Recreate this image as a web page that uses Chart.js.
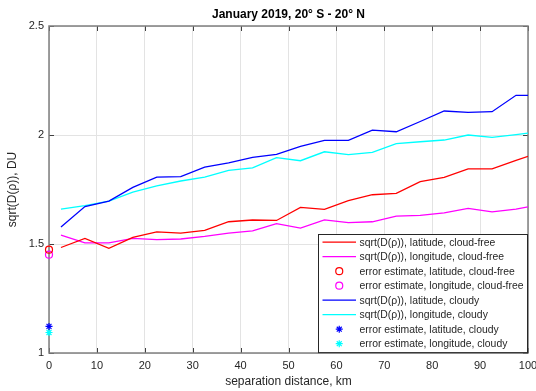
<!DOCTYPE html>
<html>
<head>
<meta charset="utf-8">
<script src="https://cdn.jsdelivr.net/npm/chart.js@4/dist/chart.umd.min.js"></script>
<style>
  html, body { margin: 0; padding: 0; background: #ffffff; }
  #wrap { width: 536px; height: 391px; }
</style>
</head>
<body>
<div id="wrap"><canvas id="c" width="536" height="391"></canvas></div>
<script>
// Separation distance bins (km)
const distanceKm = [2.5, 7.5, 12.5, 17.5, 22.5, 27.5, 32.5, 37.5, 42.5, 47.5, 52.5,
                    57.5, 62.5, 67.5, 72.5, 77.5, 82.5, 87.5, 92.5, 97.5, 100];

// sqrt(D(rho)) in DU
const latClear  = [1.484, 1.526, 1.480, 1.530, 1.556, 1.550, 1.562, 1.602, 1.610, 1.608, 1.668,
                   1.659, 1.699, 1.726, 1.732, 1.786, 1.806, 1.845, 1.845, 1.884, 1.902];
const lonClear  = [1.541, 1.505, 1.505, 1.526, 1.520, 1.523, 1.535, 1.550, 1.560, 1.593, 1.573,
                   1.611, 1.598, 1.602, 1.628, 1.631, 1.643, 1.663, 1.647, 1.660, 1.670];
const latCloudy = [1.578, 1.672, 1.697, 1.760, 1.807, 1.809, 1.853, 1.872, 1.897, 1.911, 1.948,
                   1.975, 1.975, 2.022, 2.015, 2.062, 2.110, 2.104, 2.107, 2.182, 2.182];
const lonCloudy = [1.660, 1.676, 1.697, 1.738, 1.767, 1.789, 1.807, 1.838, 1.849, 1.896, 1.882,
                   1.923, 1.910, 1.920, 1.960, 1.969, 1.977, 2.000, 1.989, 2.002, 2.009];

// Error estimates, plotted at zero separation
const errLatClear  = 1.474;
const errLonClear  = 1.451;
const errLatCloudy = 1.122;
const errLonCloudy = 1.094;

// Axis ticks
const xTicks = [0, 10, 20, 30, 40, 50, 60, 70, 80, 90, 100];
const yTicks = [1, 1.5, 2, 2.5];

const legendLabels = [
  'sqrt(D(\u03C1)), latitude, cloud-free',
  'sqrt(D(\u03C1)), longitude, cloud-free',
  'error estimate, latitude, cloud-free',
  'error estimate, longitude, cloud-free',
  'sqrt(D(\u03C1)), latitude, cloudy',
  'sqrt(D(\u03C1)), longitude, cloudy',
  'error estimate, latitude, cloudy',
  'error estimate, longitude, cloudy'
];

const FONT = '"Liberation Sans", Arial, Helvetica, sans-serif';
const TEXT = '#262626';
const AXIS = '#7f7f7f';

const pts = ys => distanceKm.map((x, i) => ({ x: x, y: ys[i] }));

function lineSet(label, ys, color) {
  return { type: 'line', label: label, data: pts(ys), borderColor: color,
           backgroundColor: color, borderWidth: 1.3, pointRadius: 0, fill: false,
           tension: 0, kind: 'line' };
}
function markerSet(label, y, color, style) {
  return { type: 'scatter', label: label, data: [{ x: 0, y: y }], borderColor: color,
           backgroundColor: style === 'circle' ? 'rgba(0,0,0,0)' : color,
           pointStyle: style, pointRadius: 3.5, pointBorderWidth: 1.2,
           clip: false, showLine: false, kind: 'marker' };
}

const datasets = [
  lineSet(legendLabels[0], latClear, '#ff0000'),
  lineSet(legendLabels[1], lonClear, '#ff00ff'),
  markerSet(legendLabels[2], errLatClear, '#ff0000', 'circle'),
  markerSet(legendLabels[3], errLonClear, '#ff00ff', 'circle'),
  lineSet(legendLabels[4], latCloudy, '#0000ff'),
  lineSet(legendLabels[5], lonCloudy, '#00ffff'),
  markerSet(legendLabels[6], errLatCloudy, '#0000ff', 'star'),
  markerSet(legendLabels[7], errLonCloudy, '#00ffff', 'star')
];

// Axes box with inward tick marks on all four sides, plus the legend
const boxPlugin = {
  id: 'axesBox',
  beforeDatasetsDraw(chart) {
    const { ctx, chartArea: a, scales: { x, y } } = chart;
    ctx.save();
    ctx.strokeStyle = '#404040';
    ctx.lineWidth = 1;
    const tl = 5;
    ctx.beginPath();
    xTicks.forEach(v => {
      const px = Math.round(x.getPixelForValue(v)) + 0.5;
      ctx.moveTo(px, a.bottom); ctx.lineTo(px, a.bottom - tl);
      ctx.moveTo(px, a.top); ctx.lineTo(px, a.top + tl);
    });
    yTicks.forEach(v => {
      const py = Math.round(y.getPixelForValue(v)) + 0.5;
      ctx.moveTo(a.left, py); ctx.lineTo(a.left + tl, py);
      ctx.moveTo(a.right, py); ctx.lineTo(a.right - tl, py);
    });
    ctx.stroke();
    ctx.strokeStyle = AXIS;
    ctx.lineWidth = 1.5;
    ctx.strokeRect(a.left, a.top, a.right - a.left, a.bottom - a.top);
    ctx.restore();
  },
  afterDraw(chart) {
    const { ctx, chartArea: a } = chart;
    const w = 210, rowH = 14.5, padTop = 8.3;
    const h = padTop * 2 + rowH * (chart.data.datasets.length - 1) + 1;
    const left = a.right - w, top = a.bottom - h;
    ctx.save();
    ctx.fillStyle = '#ffffff';
    ctx.fillRect(left, top, w, h);
    ctx.strokeStyle = '#262626';
    ctx.lineWidth = 1;
    ctx.strokeRect(Math.round(left) + 0.5, Math.round(top) + 0.5, w - 1, h - 1);
    ctx.font = '10.4px ' + FONT;
    ctx.textBaseline = 'middle';
    ctx.textAlign = 'left';
    chart.data.datasets.forEach((ds, i) => {
      const cy = top + padTop + rowH * i;
      const x0 = left + 4.5, x1 = left + 38;
      const cx = (x0 + x1) / 2;
      ctx.strokeStyle = ds.borderColor;
      if (ds.kind === 'line') {
        ctx.lineWidth = 1.3;
        ctx.beginPath(); ctx.moveTo(x0, cy); ctx.lineTo(x1, cy); ctx.stroke();
      } else if (ds.pointStyle === 'circle') {
        ctx.lineWidth = 1.2;
        ctx.beginPath(); ctx.arc(cx, cy, 3.5, 0, Math.PI * 2); ctx.stroke();
      } else {
        const r = 3.5;
        ctx.lineWidth = 1.2;
        ctx.beginPath();
        for (let k = 0; k < 4; k++) {
          const t = k * Math.PI / 4;
          ctx.moveTo(cx - r * Math.cos(t), cy - r * Math.sin(t));
          ctx.lineTo(cx + r * Math.cos(t), cy + r * Math.sin(t));
        }
        ctx.stroke();
      }
      ctx.fillStyle = TEXT;
      ctx.fillText(ds.label, left + 41.5, cy + 0.5);
    });
    ctx.restore();
  }
};

new Chart(document.getElementById('c'), {
  data: { datasets: datasets },
  plugins: [boxPlugin],
  options: {
    responsive: false,
    animation: false,
    devicePixelRatio: 1,
    layout: { padding: { top: 0, right: 8, left: 0, bottom: 0 } },
    plugins: {
      legend: { display: false },
      tooltip: { enabled: false },
      title: {
        display: true,
        fullSize: false,
        text: 'January 2019, 20\u00B0 S - 20\u00B0 N',
        color: '#000000',
        font: { family: FONT, size: 12, weight: 'bold' },
        padding: { top: 7, bottom: 4.6 }
      }
    },
    scales: {
      x: {
        type: 'linear',
        min: 0, max: 100,
        afterBuildTicks: s => { s.ticks = xTicks.map(v => ({ value: v })); },
        ticks: { color: TEXT, font: { family: FONT, size: 11 }, padding: 6,
                 maxRotation: 0, callback: v => String(v) },
        grid: { color: '#e3e3e3', lineWidth: 1, drawTicks: false },
        border: { display: false },
        title: { display: true, text: 'separation distance, km', color: TEXT,
                 font: { family: FONT, size: 12 }, padding: { top: 2, bottom: 2.5 } },
        afterFit: s => { s.height = 38; s.paddingRight = 0; s.paddingLeft = 0; }
      },
      y: {
        type: 'linear',
        min: 1, max: 2.5,
        afterBuildTicks: s => { s.ticks = yTicks.map(v => ({ value: v })); },
        ticks: { color: TEXT, font: { family: FONT, size: 11 }, padding: 5,
                 callback: v => String(v) },
        grid: { color: '#e3e3e3', lineWidth: 1, drawTicks: false },
        border: { display: false },
        title: { display: true, text: 'sqrt(D(\u03C1)), DU', color: TEXT,
                 font: { family: FONT, size: 12 }, padding: { top: 5, bottom: 0 } },
        afterFit: s => { s.width = 49; s.paddingTop = 0; s.paddingBottom = 0; }
      }
    }
  }
});
</script>
</body>
</html>
